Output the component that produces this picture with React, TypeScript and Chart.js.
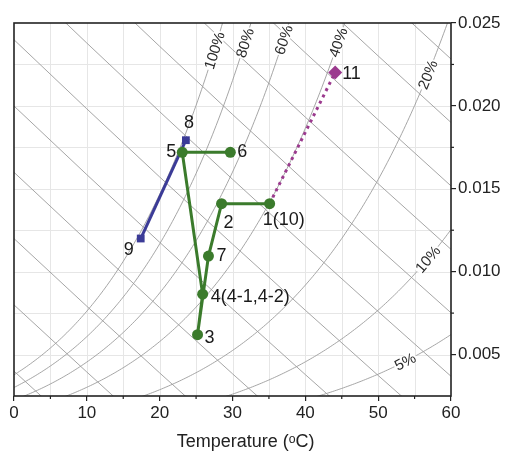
import React, { useEffect, useRef } from 'react';
import { Chart, registerables } from 'chart.js';

Chart.register(...registerables);

// ---- data ----
const tempTicks = [0, 10, 20, 30, 40, 50, 60];
const humidityTicks = [0.005, 0.01, 0.015, 0.02, 0.025];
const rhLevels = [5, 10, 20, 40, 60, 80, 100];
const rhLabelTemps = [53.7, 56.8, 56.8, 44.5, 37.0, 31.7, 27.5];
const enthalpyLevels = [10, 20, 30, 40, 50, 60, 70, 80, 90, 100, 110, 120];

const stateNames = ['1(10)', '2', '3', '4(4-1,4-2)', '5', '6', '7', '8', '9', '11'];
const stateTemp = [35.1, 28.5, 25.2, 25.9, 23.1, 29.7, 26.7, 23.6, 17.4, 44.1];
const stateW = [0.0141, 0.0141, 0.0062, 0.00864, 0.0172, 0.0172, 0.01094, 0.01793, 0.012, 0.02202];

const greenPath = ['6', '5', '4(4-1,4-2)', '3', '7', '2', '1(10)'];
const bluePath = ['9', '8'];
const purplePath = ['1(10)', '11'];

const xTitle = 'Temperature (ᵒC)';

// ---- style ----
const FONT = 'Liberation Sans, Arial, sans-serif';
const labelPlacement: Record<string, { dx: number; dy: number; align: CanvasTextAlign }> = {
  '1(10)': { dx: -7, dy: 16, align: 'left' },
  '2': { dx: 2, dy: 19, align: 'left' },
  '3': { dx: 7, dy: 3, align: 'left' },
  '4(4-1,4-2)': { dx: 8, dy: 3, align: 'left' },
  '5': { dx: -6, dy: 0, align: 'right' },
  '6': { dx: 7, dy: 0, align: 'left' },
  '7': { dx: 8, dy: 0, align: 'left' },
  '8': { dx: 3, dy: -17, align: 'center' },
  '9': { dx: -12, dy: 12, align: 'center' },
  '11': { dx: 7, dy: 2, align: 'left' },
};

const P_ATM = 101.325;
const satPressure = (t: number) => 0.61094 * Math.exp((17.625 * t) / (t + 243.04));
const humidityAt = (t: number, rh: number) => {
  const pv = (rh / 100) * satPressure(t);
  return (0.622 * pv) / (P_ATM - pv);
};
const enthalpyW = (t: number, h: number) => (h - 1.006 * t) / (2501 + 1.86 * t);

const pt = (name: string) => {
  const i = stateNames.indexOf(name);
  return { x: stateTemp[i], y: stateW[i] };
};

function rhCurve(rh: number) {
  const pts: { x: number; y: number }[] = [];
  for (let t = 0; t <= 60.001; t += 0.25) {
    const w = humidityAt(t, rh);
    pts.push({ x: t, y: w });
    if (w > 0.027) break;
  }
  return pts;
}

function enthalpyLine(h: number) {
  const pts: { x: number; y: number }[] = [];
  for (let t = -10; t <= 70; t += 10) pts.push({ x: t, y: enthalpyW(t, h) });
  return pts;
}

const psychPlugin = {
  id: 'psych',
  beforeDatasetsDraw(chart: any) {
    const { ctx, chartArea: a, scales } = chart;
    const x = scales.x, y = scales.y;
    ctx.save();
    ctx.strokeStyle = '#e6e6e6';
    ctx.lineWidth = 1;
    for (let t = 5; t < 60; t += 5) {
      const px = Math.round(x.getPixelForValue(t)) + 0.5;
      ctx.beginPath();
      ctx.moveTo(px, a.top);
      ctx.lineTo(px, a.bottom);
      ctx.stroke();
    }
    for (let k = 1; k < 9; k++) {
      const py = Math.round(y.getPixelForValue(0.0025 + k * 0.0025)) + 0.5;
      ctx.beginPath();
      ctx.moveTo(a.left, py);
      ctx.lineTo(a.right, py);
      ctx.stroke();
    }
    ctx.restore();
  },
  afterDatasetsDraw(chart: any) {
    const { ctx, scales } = chart;
    const x = scales.x, y = scales.y;
    ctx.save();
    // RH labels
    ctx.font = `15px ${FONT}`;
    ctx.textAlign = 'center';
    ctx.textBaseline = 'middle';
    rhLevels.forEach((rh, i) => {
      const t = rhLabelTemps[i];
      const px = x.getPixelForValue(t);
      const py = y.getPixelForValue(humidityAt(t, rh));
      const px1 = x.getPixelForValue(t - 0.3), py1 = y.getPixelForValue(humidityAt(t - 0.3, rh));
      const px2 = x.getPixelForValue(t + 0.3), py2 = y.getPixelForValue(humidityAt(t + 0.3, rh));
      const ang = Math.atan2(py2 - py1, px2 - px1);
      const txt = `${rh}%`;
      const w = ctx.measureText(txt).width;
      ctx.save();
      ctx.translate(px, py);
      ctx.rotate(ang);
      ctx.fillStyle = '#ffffff';
      ctx.fillRect(-w / 2 - 1, -6, w + 2, 12);
      ctx.fillStyle = '#2a2a2a';
      ctx.fillText(txt, 0, 1);
      ctx.restore();
    });
    // state point labels
    ctx.font = `18px ${FONT}`;
    ctx.fillStyle = '#1a1a1a';
    ctx.textBaseline = 'middle';
    stateNames.forEach((name, i) => {
      const p = labelPlacement[name];
      const px = x.getPixelForValue(stateTemp[i]);
      const py = y.getPixelForValue(stateW[i]);
      ctx.textAlign = p.align;
      ctx.fillText(name, px + p.dx, py + p.dy);
    });
    ctx.restore();
  },
  afterDraw(chart: any) {
    const { ctx, chartArea: a, scales } = chart;
    const x = scales.x, y = scales.y;
    ctx.save();
    ctx.strokeStyle = '#222222';
    ctx.lineWidth = 1.6;
    ctx.strokeRect(a.left, a.top, a.right - a.left, a.bottom - a.top);
    ctx.lineWidth = 1.2;
    for (let t = 5; t < 60; t += 10) {
      const px = x.getPixelForValue(t);
      ctx.beginPath();
      ctx.moveTo(px, a.bottom);
      ctx.lineTo(px, a.bottom + 3);
      ctx.stroke();
    }
    for (let w = 0.0075; w < 0.025; w += 0.005) {
      const py = y.getPixelForValue(w);
      ctx.beginPath();
      ctx.moveTo(a.right, py);
      ctx.lineTo(a.right + 3, py);
      ctx.stroke();
    }
    // axis title
    ctx.font = `18px ${FONT}`;
    ctx.fillStyle = '#222';
    ctx.textAlign = 'center';
    ctx.textBaseline = 'middle';
    ctx.fillText(xTitle, a.left + (a.right - a.left) * 0.53, a.bottom + 46);
    ctx.restore();
  },
};

export default function App() {
  const ref = useRef<HTMLCanvasElement | null>(null);

  useEffect(() => {
    if (!ref.current) return;
    const green = '#3b7b2c';
    const blue = '#3b3b97';
    const purple = '#9b3a8e';
    const gray = '#9c9c9c';

    const datasets: any[] = [
      {
        label: 'green',
        data: greenPath.map(pt),
        borderColor: green,
        backgroundColor: green,
        borderWidth: 3,
        pointRadius: 5.5,
        pointStyle: 'circle',
        pointBorderWidth: 0,
      },
      {
        label: 'blue',
        data: bluePath.map(pt),
        borderColor: blue,
        backgroundColor: blue,
        borderWidth: 3,
        pointRadius: 5.5,
        pointStyle: 'rect',
        pointBorderWidth: 0,
      },
      {
        label: 'purple',
        data: purplePath.map(pt),
        borderColor: purple,
        backgroundColor: purple,
        borderWidth: 3,
        borderDash: [3, 4],
        pointRadius: [0, 7],
        pointStyle: 'rectRot',
        pointBorderWidth: 0,
      },
      ...rhLevels.map((rh) => ({
        label: `rh${rh}`,
        data: rhCurve(rh),
        borderColor: gray,
        borderWidth: 0.9,
        pointRadius: 0,
      })),
      ...enthalpyLevels.map((h) => ({
        label: `h${h}`,
        data: enthalpyLine(h),
        borderColor: gray,
        borderWidth: 0.9,
        pointRadius: 0,
      })),
    ];

    const chart = new Chart(ref.current, {
      type: 'line',
      data: { datasets },
      options: {
        animation: false,
        responsive: false,
        devicePixelRatio: 1,
        parsing: false,
        layout: { padding: { left: 14, top: 23, right: 0, bottom: 0 } },
        plugins: { legend: { display: false }, tooltip: { enabled: false } },
        elements: { line: { tension: 0 } },
        scales: {
          x: {
            type: 'linear',
            position: 'bottom',
            min: 0,
            max: 60,
            afterFit: (s: any) => { s.height = 57; },
            afterBuildTicks: (s: any) => { s.ticks = tempTicks.map((v) => ({ value: v })); },
            ticks: { font: { family: FONT, size: 17 }, color: '#222', padding: 2, maxRotation: 0, autoSkip: false },
            grid: { display: true, drawOnChartArea: false, drawTicks: true, tickLength: 5, color: '#222', lineWidth: 1.2 },
            border: { display: false },
            title: { display: false },
          },
          y: {
            type: 'linear',
            position: 'right',
            min: 0.0025,
            max: 0.025,
            afterFit: (s: any) => { s.width = 55; },
            afterBuildTicks: (s: any) => { s.ticks = humidityTicks.map((v) => ({ value: v })); },
            ticks: {
              font: { family: FONT, size: 17 },
              color: '#222',
              padding: 2,
              autoSkip: false,
              callback: (v: any) => Number(v).toFixed(3),
            },
            grid: { display: true, drawOnChartArea: false, drawTicks: true, tickLength: 5, color: '#222', lineWidth: 1.2 },
            border: { display: false },
          },
        },
      },
      plugins: [psychPlugin],
    } as any);

    return () => chart.destroy();
  }, []);

  return (
    <div style={{ position: 'absolute', left: 0, top: 0, width: 506, height: 453, background: '#fff' }}>
      <canvas ref={ref} width={506} height={453} style={{ display: 'block' }} />
    </div>
  );
}
